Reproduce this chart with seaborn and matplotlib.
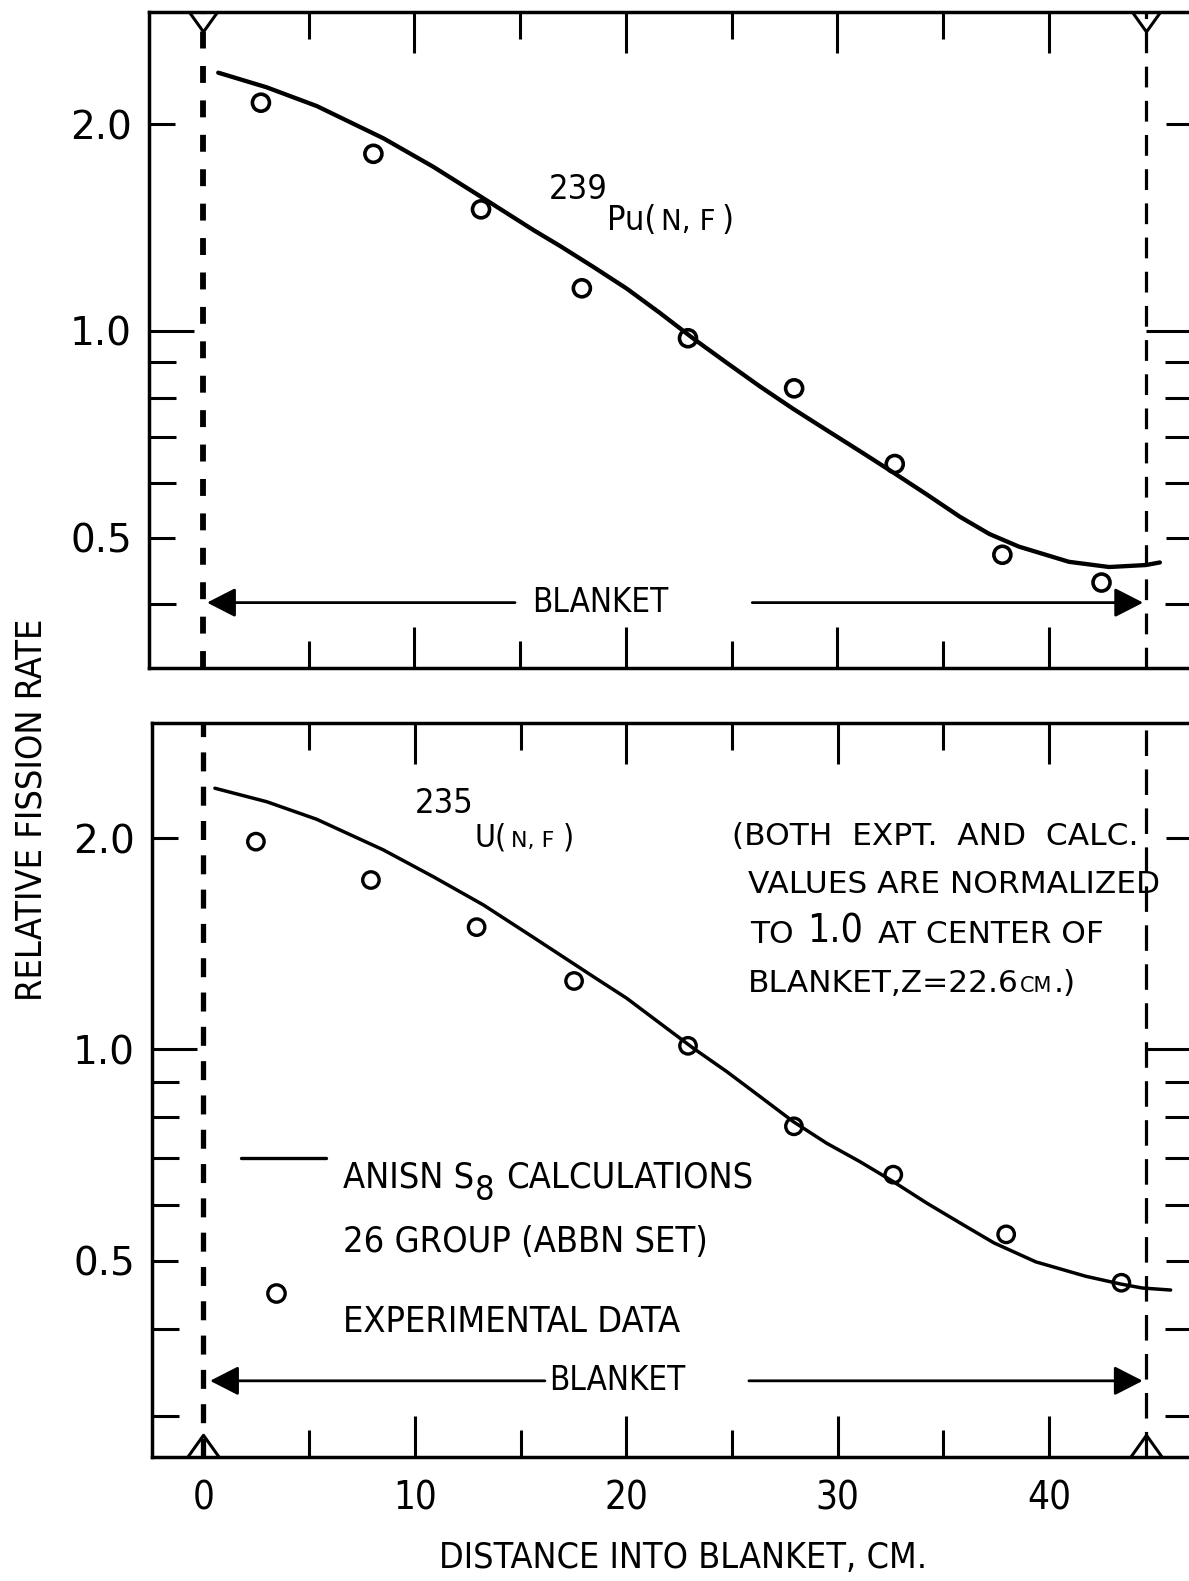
import os
import matplotlib
matplotlib.use("Agg")
import matplotlib.pyplot as plt
import matplotlib.ticker as mticker
from matplotlib import font_manager as fm
from matplotlib.font_manager import FontProperties
from matplotlib.path import Path
import seaborn as sns

# ---------------------------------------------------------------------------
# Fission-rate traverses through the blanket (relative, normalised to 1.0 at
# the blanket centre, Z = 22.6 cm).  Distances in cm.
# ---------------------------------------------------------------------------
pu_calc_z = [0.72, 3.01, 5.38, 8.53, 10.89, 13.26, 15.63, 16.89, 18.46, 20.04,
             21.62, 23.19, 24.77, 26.35, 27.92, 29.50, 31.08, 32.65, 34.23,
             35.81, 37.20, 38.60, 40.96, 42.86, 44.59, 45.26]
pu_calc_rate = [2.379, 2.265, 2.127, 1.909, 1.735, 1.561, 1.403, 1.330, 1.240,
                1.153, 1.062, 0.975, 0.899, 0.830, 0.770, 0.717, 0.668, 0.622,
                0.578, 0.536, 0.506, 0.485, 0.461, 0.453, 0.456, 0.460]
pu_expt_z = [2.74, 8.06, 13.15, 17.92, 22.94, 27.96, 32.72, 37.81, 42.50]
pu_expt_rate = [2.151, 1.812, 1.504, 1.154, 0.976, 0.825, 0.640, 0.472, 0.430]

u_calc_z = [0.54, 2.99, 5.35, 8.51, 10.87, 13.24, 15.60, 18.44, 20.02, 21.59,
            23.17, 24.75, 26.32, 27.90, 29.48, 31.05, 32.63, 34.21, 35.78,
            37.39, 39.37, 41.73, 43.39, 44.41, 45.75]
u_calc_rate = [2.357, 2.255, 2.129, 1.925, 1.763, 1.607, 1.445, 1.270, 1.183,
               1.090, 1.004, 0.930, 0.857, 0.789, 0.735, 0.692, 0.648, 0.604,
               0.566, 0.530, 0.498, 0.475, 0.463, 0.457, 0.454]
u_expt_z = [2.48, 7.92, 12.92, 17.53, 22.92, 27.93, 32.63, 37.97, 43.42]
u_expt_rate = [1.978, 1.744, 1.494, 1.252, 1.012, 0.777, 0.663, 0.545, 0.465]

blanket_edges = [0.0, 44.6]

x_major = [0, 10, 20, 30, 40]
x_labels = ["0", "10", "20", "30", "40"]
x_minor = [5, 15, 25, 35]
y_major = [0.5, 1.0, 2.0]
y_labels = ["0.5", "1.0", "2.0"]
pu_minor = [0.4, 0.6, 0.7, 0.8, 0.9]
u_minor = [0.3, 0.4, 0.6, 0.7, 0.8, 0.9]

# ---------------------------------------------------------------------------
sns.set_style("ticks")
plt.rcParams["font.family"] = ["DejaVu Sans"]
plt.rcParams["text.color"] = "black"


def _font_file(prefixes):
    files = {os.path.basename(f.fname).lower(): f.fname
             for f in fm.fontManager.ttflist}
    for p in prefixes:
        for name, path in sorted(files.items()):
            if name.startswith(p):
                return path, p
    return None, None


_NARROW, _which = _font_file(["liberationsansnarrow-regular",
                              "liberationsansnarrow.",
                              "dejavusanscondensed."])
if _NARROW is None:
    _SCALE = 0.84
elif _which.startswith("dejavu"):
    _SCALE = 0.88
else:
    _SCALE = 1.0


def narrow(size):
    if _NARROW:
        return FontProperties(fname=_NARROW, size=size * _SCALE)
    return FontProperties(family="Liberation Sans", size=size * _SCALE)


def wide(size):
    return FontProperties(family="DejaVu Sans", size=size)


W, H = 1189, 1581
fig = plt.figure(figsize=(W / 100, H / 100), dpi=100)
fig.patch.set_facecolor("white")


def px_rect(left, top, right, bottom):
    return [left / W, 1 - bottom / H, (right - left) / W, (bottom - top) / H]


ax_pu = fig.add_axes(px_rect(148.5, 11.7, 1192, 668.3))
ax_u = fig.add_axes(px_rect(151.7, 723.3, 1192, 1456.7))

# calculated curves and measured points
sns.lineplot(x=pu_calc_z, y=pu_calc_rate, ax=ax_pu, color="black",
             linewidth=3.1, estimator=None, zorder=4)
sns.scatterplot(x=pu_expt_z, y=pu_expt_rate, ax=ax_pu, marker="o", s=150,
                facecolor="none", edgecolor="black", linewidth=2.6, zorder=5)
ax_pu.collections[-1].set_facecolor("none")

sns.lineplot(x=u_calc_z, y=u_calc_rate, ax=ax_u, color="black",
             linewidth=2.5, estimator=None, zorder=4)
sns.scatterplot(x=u_expt_z, y=u_expt_rate, ax=ax_u, marker="o", s=140,
                facecolor="none", edgecolor="black", linewidth=2.4, zorder=5)
ax_u.collections[-1].set_facecolor("none")


def frame(ax, xlim, ylim, minor_y, show_xlabels):
    ax.set_yscale("log")
    ax.set_xlim(*xlim)
    ax.set_ylim(*ylim)
    ax.xaxis.set_major_locator(mticker.FixedLocator(x_major))
    ax.xaxis.set_major_formatter(mticker.FixedFormatter(x_labels))
    ax.xaxis.set_minor_locator(mticker.FixedLocator(x_minor))
    ax.xaxis.set_minor_formatter(mticker.NullFormatter())
    ax.yaxis.set_major_locator(mticker.FixedLocator(y_major))
    ax.yaxis.set_major_formatter(mticker.FixedFormatter(y_labels))
    ax.yaxis.set_minor_locator(mticker.FixedLocator(minor_y))
    ax.yaxis.set_minor_formatter(mticker.NullFormatter())
    ax.tick_params(which="both", direction="in", top=True, right=True,
                   bottom=True, left=True, width=2.2, color="black",
                   labelcolor="black")
    ax.tick_params(axis="x", which="major", length=29.5, pad=16.5)
    ax.tick_params(axis="x", which="minor", length=19.5)
    ax.tick_params(axis="y", which="major", length=18.5, pad=12)
    ax.tick_params(axis="y", which="minor", length=19.5)
    ax.tick_params(axis="x", labelbottom=show_xlabels)
    for sp in ax.spines.values():
        sp.set_linewidth(2.5)
        sp.set_color("black")
        sp.set_visible(True)
    ax.set_xlabel("")
    ax.set_ylabel("")
    ax.set_facecolor("white")
    for lab in ax.get_yticklabels():
        lab.set_fontproperties(wide(28))
        lab.set_color("black")
    for lab in ax.get_xticklabels():
        lab.set_fontproperties(narrow(31.5))
        lab.set_color("black")
    # the x = 0 tick sits on the blanket boundary: label only
    xt = ax.xaxis.get_major_ticks()
    xt[0].tick1line.set_visible(False)
    xt[0].tick2line.set_visible(False)
    # the 1.0 tick reaches across to the boundary lines
    yt = ax.yaxis.get_major_ticks()
    yt[1].tick1line.set_markersize(32.5)
    yt[1].tick2line.set_markersize(33)


frame(ax_pu, (-2.578, 46.78), (0.3225, 2.919), pu_minor, False)
frame(ax_u, (-2.45, 46.76), (0.2627, 2.917), u_minor, True)

# blanket boundaries
vee = Path([(-1, 0), (0, -1.4), (1, 0)], [Path.MOVETO, Path.LINETO, Path.LINETO])
wedge = Path([(-1, 0), (0, 1.4), (1, 0)], [Path.MOVETO, Path.LINETO, Path.LINETO])

ax_pu.axvline(blanket_edges[0], color="black", lw=4.2, ls=(0, (2.9, 3.0)), zorder=2)
ax_pu.axvline(blanket_edges[1], color="black", lw=2.3, ls=(0, (6.5, 4.2)), zorder=2)
ax_u.axvline(blanket_edges[0], color="black", lw=3.8, ls=(0, (3.6, 2.9)), zorder=2)
ax_u.axvline(blanket_edges[1], color="black", lw=2.3, ls=(0, (8.0, 4.2)), zorder=2)
for xb in blanket_edges:
    ax_pu.plot([xb], [1.0], transform=ax_pu.get_xaxis_transform(), marker=vee,
               ms=28, mfc="none", mec="black", mew=2.2, ls="none",
               clip_on=False, zorder=6)
    ax_u.plot([xb], [0.0], transform=ax_u.get_xaxis_transform(), marker=wedge,
              ms=32, mfc="none", mec="black", mew=2.2, ls="none",
              clip_on=False, zorder=6)


def blanket_arrow(ax, start, tip, y):
    ax.annotate("", xy=(tip, y), xytext=(start, y),
                arrowprops=dict(arrowstyle="-|>,head_length=1.76,head_width=0.9",
                                color="black", lw=2.0, shrinkA=0, shrinkB=0,
                                mutation_scale=10), zorder=5)


blanket_arrow(ax_pu, 14.76, 0.19, 0.402)
blanket_arrow(ax_pu, 25.98, 44.47, 0.402)
ax_pu.text(15.56, 0.402, "BLANKET", fontproperties=narrow(27),
           ha="left", va="center")
blanket_arrow(ax_u, 16.15, 0.31, 0.337)
blanket_arrow(ax_u, 25.80, 44.43, 0.337)
ax_u.text(16.34, 0.337, "BLANKET", fontproperties=narrow(27),
          ha="left", va="center")


def text_run(ax, x, y, pieces):
    """Write pieces left to right on one baseline; each piece is
    (text, font, gap before in px, drop below baseline in px)."""
    renderer = fig.canvas.get_renderer()
    px, py = ax.transData.transform((x, y))
    to_data = ax.transData.inverted()
    for s, fp, gap, drop in pieces:
        px += gap
        xd, yd = to_data.transform((px, py - drop))
        t = ax.text(xd, yd, s, fontproperties=fp, ha="left", va="baseline",
                    clip_on=False, zorder=7)
        px = t.get_window_extent(renderer).x1


# reaction labels
ax_pu.text(16.37, 1.556, "239", fontproperties=narrow(28), ha="left",
           va="baseline")
text_run(ax_pu, 19.11, 1.403, [("Pu(", narrow(28), 0, 0),
                               ("N, F", wide(20), 5, 0),
                               (")", narrow(28), 6, 0)])
ax_u.text(10.0, 2.171, "235", fontproperties=narrow(28), ha="left",
          va="baseline")
text_run(ax_u, 12.84, 1.946, [("U(", narrow(26), 0, 0),
                              ("N, F", wide(16), 4, 0),
                              (")", narrow(26), 8, 0)])

# normalisation note
note_font = wide(22.5)
text_run(ax_u, 24.99, 1.956, [("(BOTH  EXPT.  AND  CALC.", note_font, 0, 0)])
text_run(ax_u, 25.77, 1.671, [("VALUES ARE NORMALIZED", note_font, 0, 0)])
text_run(ax_u, 25.85, 1.419, [("TO", note_font, 0, 0),
                              ("1.0", narrow(32), 14, 0),
                              ("AT CENTER OF", note_font, 14, 0)])
text_run(ax_u, 25.77, 1.208, [("BLANKET,Z=22.6", note_font, 0, 0),
                              ("CM", wide(15), 1, 0),
                              (".)", note_font, 1, 0)])

# key
ax_u.plot([1.76, 5.79], [0.70, 0.70], color="black", lw=2.4, zorder=5)
ax_u.plot([3.41], [0.449], marker="o", ms=12.5, mfc="none", mec="black",
          mew=2.4, ls="none", zorder=5)
key_font = narrow(29.5)
text_run(ax_u, 6.61, 0.6365, [("ANISN S", key_font, 0, 0),
                              ("8", narrow(28), 1, 13),
                              ("CALCULATIONS", key_font, 11, 0)])
text_run(ax_u, 6.61, 0.515, [("26 GROUP (ABBN SET)", key_font, 0, 0)])
text_run(ax_u, 6.61, 0.395, [("EXPERIMENTAL DATA", key_font, 0, 0)])

# axis titles
fig.text(32 / W, 1 - 810 / H, "RELATIVE FISSION RATE", rotation=90,
         fontproperties=narrow(29.5), ha="center", va="center")
fig.text(683.5 / W, 1 - 1558 / H, "DISTANCE INTO BLANKET, CM.",
         fontproperties=narrow(29.3), ha="center", va="center")

fig.savefig("out.png", dpi=100, facecolor="white")
